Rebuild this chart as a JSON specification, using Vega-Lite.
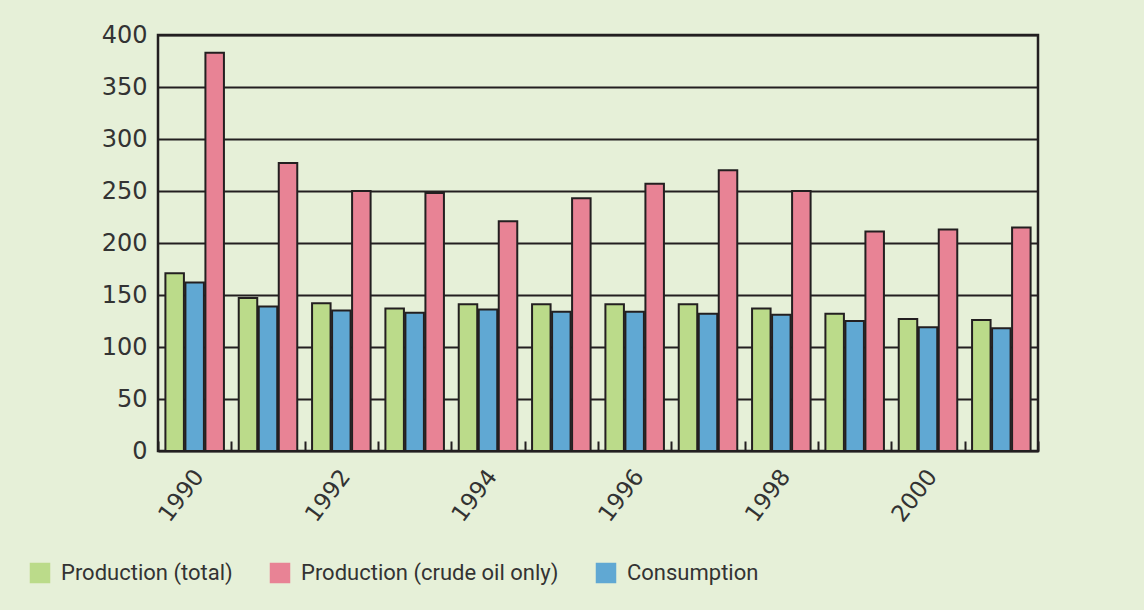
{
  "$schema": "https://vega.github.io/schema/vega-lite/v6.json",
  "width": 880,
  "height": 416,
  "autosize": {"type": "none"},
  "padding": {"left": 158, "top": 35, "right": 106, "bottom": 159},
  "background": "#e6f0d8",
  "data": {
    "values": [
      {"year": "1990", "series": "Production (total)", "value": 171},
      {"year": "1990", "series": "Production (crude oil only)", "value": 383},
      {"year": "1990", "series": "Consumption", "value": 162},
      {"year": "1991", "series": "Production (total)", "value": 147},
      {"year": "1991", "series": "Production (crude oil only)", "value": 277},
      {"year": "1991", "series": "Consumption", "value": 139},
      {"year": "1992", "series": "Production (total)", "value": 142},
      {"year": "1992", "series": "Production (crude oil only)", "value": 250},
      {"year": "1992", "series": "Consumption", "value": 135},
      {"year": "1993", "series": "Production (total)", "value": 137},
      {"year": "1993", "series": "Production (crude oil only)", "value": 248},
      {"year": "1993", "series": "Consumption", "value": 133},
      {"year": "1994", "series": "Production (total)", "value": 141},
      {"year": "1994", "series": "Production (crude oil only)", "value": 221},
      {"year": "1994", "series": "Consumption", "value": 136},
      {"year": "1995", "series": "Production (total)", "value": 141},
      {"year": "1995", "series": "Production (crude oil only)", "value": 243},
      {"year": "1995", "series": "Consumption", "value": 134},
      {"year": "1996", "series": "Production (total)", "value": 141},
      {"year": "1996", "series": "Production (crude oil only)", "value": 257},
      {"year": "1996", "series": "Consumption", "value": 134},
      {"year": "1997", "series": "Production (total)", "value": 141},
      {"year": "1997", "series": "Production (crude oil only)", "value": 270},
      {"year": "1997", "series": "Consumption", "value": 132},
      {"year": "1998", "series": "Production (total)", "value": 137},
      {"year": "1998", "series": "Production (crude oil only)", "value": 250},
      {"year": "1998", "series": "Consumption", "value": 131},
      {"year": "1999", "series": "Production (total)", "value": 132},
      {"year": "1999", "series": "Production (crude oil only)", "value": 211},
      {"year": "1999", "series": "Consumption", "value": 125},
      {"year": "2000", "series": "Production (total)", "value": 127},
      {"year": "2000", "series": "Production (crude oil only)", "value": 213},
      {"year": "2000", "series": "Consumption", "value": 119},
      {"year": "2001", "series": "Production (total)", "value": 126},
      {"year": "2001", "series": "Production (crude oil only)", "value": 215},
      {"year": "2001", "series": "Consumption", "value": 118}
    ]
  },
  "mark": {"type": "bar", "stroke": "#231f20", "strokeWidth": 2},
  "encoding": {
    "x": {
      "field": "year",
      "type": "nominal",
      "sort": null,
      "scale": {"paddingInner": 0, "paddingOuter": 0},
      "axis": {
        "title": null,
        "domain": false,
        "grid": false,
        "ticks": true,
        "zindex": 1,
        "tickBand": "extent",
        "tickSize": -10,
        "tickWidth": 2,
        "tickColor": "#231f20",
        "tickOpacity": 1,
        "labelExpr": "parseInt(datum.value) % 2 == 0 ? datum.value : ''",
        "labelAngle": -53,
        "labelAlign": "right",
        "labelBaseline": "middle",
        "labelPadding": 31,
        "labelOffset": 4,
        "labelFont": "DejaVu Sans",
        "labelFontSize": 23,
        "labelColor": "#333333"
      }
    },
    "xOffset": {
      "field": "series",
      "type": "nominal",
      "scale": {
        "domain": ["Production (total)", "Consumption", "Production (crude oil only)"],
        "paddingInner": 0.075,
        "paddingOuter": 0.37
      }
    },
    "y": {
      "field": "value",
      "type": "quantitative",
      "scale": {"domain": [0, 400]},
      "axis": {
        "title": null,
        "values": [0, 50, 100, 150, 200, 250, 300, 350, 400],
        "domain": false,
        "ticks": false,
        "grid": true,
        "gridColor": "#231f20",
        "gridWidth": 2,
        "gridOpacity": 1,
        "labelPadding": 11,
        "labelFont": "DejaVu Sans",
        "labelFontSize": 24,
        "labelColor": "#333333"
      }
    },
    "color": {
      "field": "series",
      "type": "nominal",
      "scale": {
        "domain": ["Production (total)", "Production (crude oil only)", "Consumption"],
        "range": ["#bbdb8a", "#e88395", "#60a8d3"]
      },
      "legend": {
        "title": null,
        "orient": "none",
        "direction": "horizontal",
        "legendX": -129,
        "legendY": 527,
        "symbolType": "square",
        "symbolSize": 420,
        "symbolStrokeWidth": 0,
        "symbolOpacity": 1,
        "labelOffset": 10,
        "columnPadding": 36,
        "labelFont": "Roboto",
        "labelFontSize": 22,
        "labelColor": "#333333",
        "labelLimit": 400
      }
    }
  },
  "config": {
    "view": {"stroke": "#231f20", "strokeWidth": 2.5}
  }
}
